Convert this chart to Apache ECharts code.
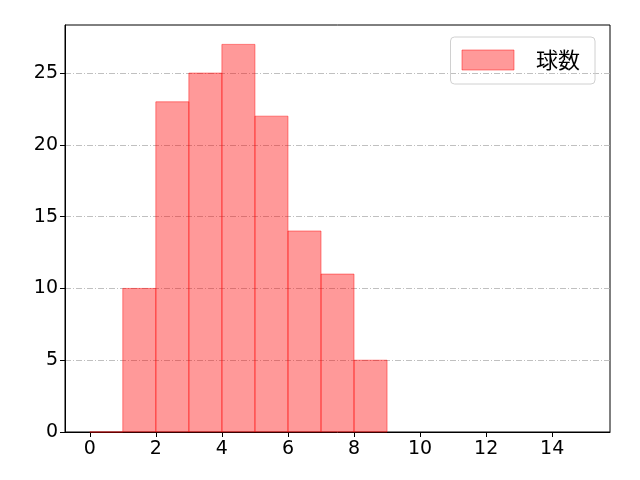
<!DOCTYPE html>
<html lang="ja">
  <head>
    <meta charset="UTF-8" />
    <title>球数</title>
    <script src="https://cdn.jsdelivr.net/npm/echarts@6.0.0/dist/echarts.min.js"></script>
    <style>
      html, body { margin: 0; padding: 0; background: #fff; }
    </style>
  </head>
  <body>
    <div id="main" style="width: 640px; height: 480px"></div>
    <script type="text/javascript">
      // histogram bins (left edge, right edge) and counts
      let binStart = [0, 1, 2, 3, 4, 5, 6, 7, 8]
      let binEnd = [1, 2, 3, 4, 5, 6, 7, 8, 9]
      let counts = [0, 10, 23, 25, 27, 22, 14, 11, 5]
      let xTicks = [0, 2, 4, 6, 8, 10, 12, 14]
      let yTicks = [0, 5, 10, 15, 20, 25]
      let seriesName = "球数"

      let font = "'Noto Sans CJK JP', 'DejaVu Sans', sans-serif"
      let tickFont = "'DejaVu Sans', sans-serif"
      let fill = "rgba(255, 0, 0, 0.4)"
      let edge = "rgba(255, 0, 0, 0.45)"

      let data = binStart.map((s, i) => [s, binEnd[i], counts[i]])

      let options = {
        animation: false,
        grid: {
          left: 65, right: 30, top: 25, bottom: 48,
          show: true, borderColor: "#000", borderWidth: 1,
        },
        legend: {
          right: 45, top: 37,
          padding: [12, 15, 13, 11],
          borderColor: "#d0d0d0", borderWidth: 1, borderRadius: 4,
          itemWidth: 52, itemHeight: 20,
          textStyle: { fontFamily: font, fontSize: 22, color: "#000", padding: [0, 0, 0, 17] },
          data: [{ name: seriesName, icon: "rect",
                   itemStyle: { color: fill, borderColor: edge, borderWidth: 1 } }],
        },
        xAxis: {
          type: "value", min: -0.75, max: 15.75,
          axisLine: { show: true, onZero: false, lineStyle: { color: "#000" } },
          axisTick: { show: true, length: 5, customValues: xTicks, lineStyle: { color: "#000" } },
          axisLabel: { customValues: xTicks, fontFamily: tickFont, fontSize: 19, color: "#000", margin: 8 },
          splitLine: { show: false },
        },
        yAxis: {
          type: "value", min: 0, max: 28.35,
          axisLine: { show: true, onZero: false, lineStyle: { color: "#000" } },
          axisTick: { show: true, length: 5, customValues: yTicks, lineStyle: { color: "#000" } },
          axisLabel: { customValues: yTicks, fontFamily: tickFont, fontSize: 19, color: "#000", margin: 7 },
          interval: 5,
          splitLine: { show: true, lineStyle: { color: "#b0b0b0", width: 0.8, type: [6, 2, 1, 2] } },
        },
        series: [
          {
            name: seriesName,
            type: "custom",
            data: data,
            encode: { x: [0, 1], y: 2 },
            renderItem: function (params, api) {
              let p0 = api.coord([api.value(0), 0])
              let p1 = api.coord([api.value(1), api.value(2)])
              return {
                type: "rect",
                shape: { x: p0[0], y: p1[1], width: p1[0] - p0[0], height: p0[1] - p1[1] },
                style: { fill: fill, stroke: edge, lineWidth: 1 },
              }
            },
          },
        ],
      }

      let myChart = echarts.init(document.getElementById("main"))
      myChart.setOption(options)
    </script>
  </body>
</html>
